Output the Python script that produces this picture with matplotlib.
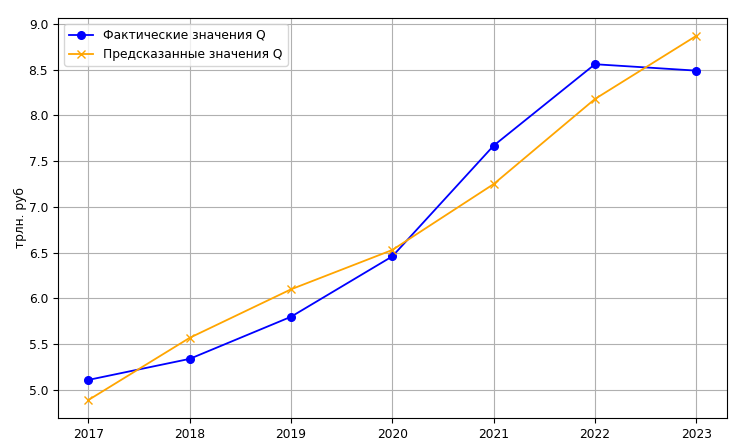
import matplotlib.pyplot as plt

years = [2017, 2018, 2019, 2020, 2021, 2022, 2023]
actual_q = [5.11, 5.34, 5.80, 6.46, 7.67, 8.56, 8.49]
predicted_q = [4.89, 5.57, 6.10, 6.53, 7.25, 8.18, 8.87]

plt.rcParams['font.size'] = 8.8

fig = plt.figure(figsize=(7.43, 4.48), dpi=100)
ax = fig.add_axes([0.078, 0.067, 0.9, 0.893])

ax.plot(years, actual_q, '-o', color='blue', lw=1.3, ms=5.5, label='Фактические значения Q')
ax.plot(years, predicted_q, '-x', color='orange', lw=1.3, ms=5.5, label='Предсказанные значения Q')

ax.set_ylabel('трлн. руб', labelpad=1)
ax.set_ylim(4.694, 9.066)
ax.grid(True)
ax.legend(loc='upper left')

fig.savefig('out.png', dpi=100)
